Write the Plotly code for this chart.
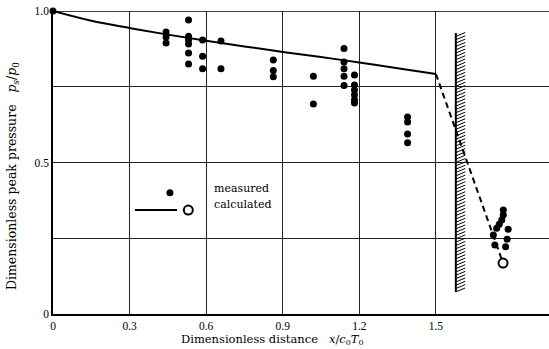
import plotly.graph_objects as go

# ---- data ----
calc_x = [0, 0.15, 0.3, 0.45, 0.6, 0.75, 0.9, 1.05, 1.2, 1.35, 1.5]
calc_y = [1.0, 0.968, 0.944, 0.922, 0.902, 0.883, 0.865, 0.848, 0.83, 0.811, 0.792]

refl_x = [1.5, 1.763]
refl_y = [0.792, 0.168]

calc_pt_x = [1.763]
calc_pt_y = [0.168]

meas_x = [0.0,
          0.443, 0.443, 0.443,
          0.531, 0.531, 0.531, 0.531, 0.531, 0.531,
          0.586, 0.586, 0.586,
          0.658, 0.658,
          0.863, 0.863, 0.863,
          1.02, 1.02,
          1.14, 1.14, 1.14, 1.14, 1.14,
          1.181, 1.181, 1.181, 1.181, 1.181, 1.181,
          1.389, 1.389, 1.389, 1.389,
          1.764, 1.764, 1.758, 1.748, 1.738, 1.725, 1.783, 1.779, 1.731, 1.773]
meas_y = [1.0,
          0.931, 0.914, 0.894,
          0.970, 0.917, 0.904, 0.891, 0.861, 0.825,
          0.904, 0.851, 0.809,
          0.901, 0.809,
          0.838, 0.804, 0.783,
          0.785, 0.693,
          0.876, 0.832, 0.809, 0.785, 0.754,
          0.789, 0.756, 0.739, 0.723, 0.706, 0.696,
          0.650, 0.634, 0.594, 0.565,
          0.343, 0.327, 0.310, 0.296, 0.283, 0.261, 0.280, 0.247, 0.228, 0.222]

wall_x = 1.578
wall_bottom = 0.073
wall_top = 0.927

x_ticks = [0, 0.3, 0.6, 0.9, 1.2, 1.5]
x_labels = ["0", "0.3", "0.6", "0.9", "1.2", "1.5"]
y_ticks = [0, 0.25, 0.5, 0.75, 1.0]
y_labels = ["0", "", "0.5", "", "1.0"]

X_MAX = 1.943

fig = go.Figure()

# wall hatching
hx, hy = [], []
n = 78
for i in range(n + 1):
    yy = wall_bottom + (wall_top - wall_bottom) * i / n
    if yy + 0.013 > wall_top + 0.005:
        continue
    hx += [wall_x, wall_x + 0.037, None]
    hy += [yy, yy + 0.013, None]
fig.add_trace(go.Scatter(x=hx, y=hy, mode="lines", line=dict(color="black", width=1),
                         hoverinfo="skip", showlegend=False))
fig.add_trace(go.Scatter(x=[wall_x, wall_x], y=[wall_bottom, wall_top], mode="lines",
                         line=dict(color="black", width=2), showlegend=False))

# calculated
fig.add_trace(go.Scatter(x=calc_x, y=calc_y, mode="lines", line=dict(color="black", width=2),
                         line_shape="spline", showlegend=False, cliponaxis=False))
fig.add_trace(go.Scatter(x=refl_x, y=refl_y, mode="lines",
                         line=dict(color="black", width=2, dash="6px,4px"), showlegend=False))
fig.add_trace(go.Scatter(x=calc_pt_x, y=calc_pt_y, mode="markers",
                         marker=dict(size=9, color="white", line=dict(color="black", width=2)),
                         showlegend=False))

# measured
fig.add_trace(go.Scatter(x=meas_x, y=meas_y, mode="markers",
                         marker=dict(size=7, color="black"), showlegend=False, cliponaxis=False))

# legend (drawn inside plot)
fig.add_trace(go.Scatter(x=[0.458], y=[0.40], mode="markers", marker=dict(size=7, color="black"),
                         showlegend=False))
fig.add_trace(go.Scatter(x=[0.321, 0.486], y=[0.343, 0.343], mode="lines",
                         line=dict(color="black", width=2), showlegend=False))
fig.add_trace(go.Scatter(x=[0.530], y=[0.343], mode="markers",
                         marker=dict(size=9, color="white", line=dict(color="black", width=2)),
                         showlegend=False))

tfont = dict(family="DejaVu Serif", size=11, color="black")
fig.add_annotation(x=0.623, y=0.413, text="measured", showarrow=False, xanchor="left",
                   yanchor="middle", font=tfont)
fig.add_annotation(x=0.623, y=0.360, text="calculated", showarrow=False, xanchor="left",
                   yanchor="middle", font=tfont)

# axis titles
fig.add_annotation(xref="paper", yref="paper", x=(272 - 53) / 496, y=-(339 - 314) / 303,
                   text="Dimensionless distance &nbsp;&nbsp;<i>x</i>/<i>c</i><sub>0</sub><i>T</i><sub>0</sub>",
                   showarrow=False, xanchor="center", yanchor="middle",
                   font=dict(family="DejaVu Serif", size=11.5, color="black"))
fig.add_annotation(xref="paper", yref="paper", x=-(53 - 12) / 496, y=(314 - 176) / 303,
                   text="Dimensionless peak pressure &nbsp;&nbsp;<i>p<sub>s</sub></i>/<i>p</i><sub>0</sub>",
                   showarrow=False, xanchor="center", yanchor="middle", textangle=-90,
                   font=dict(family="DejaVu Serif", size=12.5, color="black"))

# top border line
fig.add_shape(type="line", xref="paper", yref="y", x0=0, x1=1, y0=1.0, y1=1.0,
              line=dict(color="black", width=1.5))

fig.update_xaxes(range=[0, X_MAX], tickvals=x_ticks, ticktext=x_labels, showgrid=True,
                 gridcolor="#222", gridwidth=1, zeroline=False, showline=True,
                 linecolor="black", linewidth=1.5, ticks="",
                 tickfont=dict(family="Liberation Serif", size=11.5, color="black"))
fig.update_yaxes(range=[0, 1.0], tickvals=y_ticks, ticktext=y_labels, showgrid=True,
                 gridcolor="#222", gridwidth=1, zeroline=False, showline=True,
                 linecolor="black", linewidth=1.5, ticks="",
                 tickfont=dict(family="Liberation Serif", size=11.5, color="black"))

fig.update_layout(width=549, height=349, margin=dict(l=53, r=0, t=11, b=35),
                  paper_bgcolor="white", plot_bgcolor="white", showlegend=False)

fig.write_html("out.html")
